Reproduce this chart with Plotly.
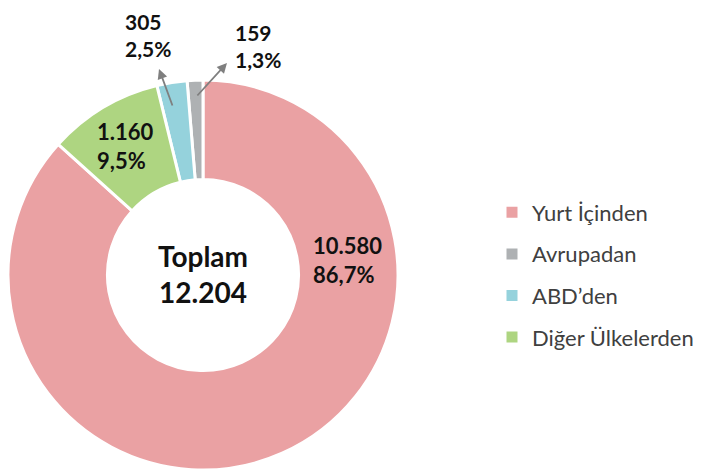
import plotly.graph_objects as go

labels = ["Yurt İçinden", "Avrupadan", "ABD’den", "Diğer Ülkelerden"]
values = [10580, 159, 305, 1160]
colors = ["#EAA1A3", "#AEB1B3", "#95D2DC", "#AED581"]
center_title = "Toplam"

W, H = 702, 473
OFF = 8  # default page body margin
total = sum(values)

def fmt_int(v):
    return f"{v:,}".replace(",", ".")

def fmt_pct(v):
    return f"{v / total * 100:.1f}".replace(".", ",") + "%"

def px(x):
    return (x - OFF) / W

def py(y):
    return 1 - (y - OFF) / H

fig = go.Figure()
fig.add_trace(go.Pie(
    labels=labels, values=values, hole=0.49, sort=False,
    direction="counterclockwise", rotation=0,
    marker=dict(colors=colors, line=dict(color="white", width=3)),
    textinfo="none", hoverinfo="label+value+percent",
    domain=dict(x=[px(8), px(398)], y=[py(470), py(80)]),
    showlegend=False,
))

# legend entries drawn from the same category / colour arrays
for i, (lab, col) in enumerate(zip(labels, colors)):
    fig.add_trace(go.Scatter(
        x=[None], y=[None], mode="markers", name=lab, legendgroup=f"g{i}",
        marker=dict(symbol="square", size=11, color=col), showlegend=True))

label_font = dict(family="Lato", size=22, color="#111111")
small_font = dict(family="Lato", size=21, color="#111111")
label_pos = {0: (347, 260), 3: (125, 146), 2: (148, 35), 1: (258, 46)}
annotations = []
for i, (x, y) in label_pos.items():
    annotations.append(dict(
        x=px(x), y=py(y), xref="paper", yref="paper",
        text=f"<b>{fmt_int(values[i])}<br>{fmt_pct(values[i])}</b>",
        showarrow=False, font=label_font if i in (0, 3) else small_font,
        align="left", xanchor="center", yanchor="middle"))

arrows = [((159, 69), (173, 107)), ((227, 63), (196, 97))]
for (hx, hy), (tx, ty) in arrows:
    annotations.append(dict(
        x=px(hx), y=py(hy), xref="paper", yref="paper",
        ax=tx - hx, ay=ty - hy, text="", showarrow=True,
        arrowhead=2, arrowsize=1.1, arrowwidth=1.8, arrowcolor="#7F7F7F"))

annotations.append(dict(
    x=px(203), y=py(274), xref="paper", yref="paper",
    text=f"<b>{center_title}<br>{fmt_int(total)}</b>", showarrow=False,
    font=dict(family="Lato", size=28, color="#111111"),
    xanchor="center", yanchor="middle"))

fig.update_layout(
    width=W, height=H, margin=dict(l=0, r=0, t=0, b=0),
    paper_bgcolor="white", plot_bgcolor="white",
    xaxis=dict(visible=False), yaxis=dict(visible=False),
    annotations=annotations,
    legend=dict(x=px(492), y=py(275), xanchor="left", yanchor="middle",
                tracegroupgap=10, traceorder="grouped",
                font=dict(family="Lato", size=22, color="#404040")),
    showlegend=True,
)

fig.write_html("out.html")
